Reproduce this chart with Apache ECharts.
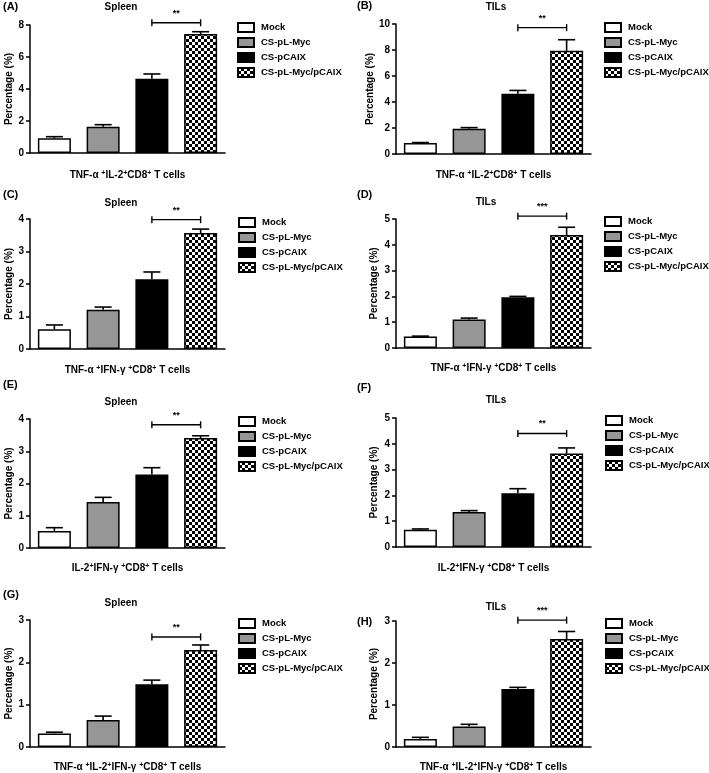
<!DOCTYPE html>
<html><head><meta charset="utf-8">
<script src="https://cdn.jsdelivr.net/npm/echarts@6/dist/echarts.min.js"></script>
<style>html,body{margin:0;padding:0;background:#fff}#c{width:709px;height:773px}</style>
</head><body><div id="c"></div>
<script>
// ---------- data ----------
const groups = ['Mock', 'CS-pL-Myc', 'CS-pCAIX', 'CS-pL-Myc/pCAIX'];
const panelLetters = ['(A)', '(B)', '(C)', '(D)', '(E)', '(F)', '(G)', '(H)'];
const tissues = ['Spleen', 'TILs', 'Spleen', 'TILs', 'Spleen', 'TILs', 'Spleen', 'TILs'];
const cellTypes = [
  'TNF-α {s|+}IL-2{s|+}CD8{s|+} T cells',
  'TNF-α {s|+}IL-2{s|+}CD8{s|+} T cells',
  'TNF-α {s|+}IFN-γ {s|+}CD8{s|+} T cells',
  'TNF-α {s|+}IFN-γ {s|+}CD8{s|+} T cells',
  'IL-2{s|+}IFN-γ {s|+}CD8{s|+} T cells',
  'IL-2{s|+}IFN-γ {s|+}CD8{s|+} T cells',
  'TNF-α {s|+}IL-2{s|+}IFN-γ {s|+}CD8{s|+} T cells',
  'TNF-α {s|+}IL-2{s|+}IFN-γ {s|+}CD8{s|+} T cells'
];
const yMax = [8, 10, 4, 5, 4, 5, 3, 3];
const yStep = [2, 2, 1, 1, 1, 1, 1, 1];

const meanA = [0.92, 1.64, 4.64, 7.44]; const semA = [0.10, 0.13, 0.30, 0.14];
const meanB = [0.84, 1.94, 4.64, 7.94]; const semB = [0.04, 0.09, 0.25, 0.85];
const meanC = [0.61, 1.21, 2.15, 3.57]; const semC = [0.13, 0.08, 0.22, 0.12];
const meanD = [0.45, 1.10, 1.97, 4.38]; const semD = [0.01, 0.06, 0.03, 0.30];
const meanE = [0.53, 1.43, 2.28, 3.41]; const semE = [0.10, 0.14, 0.21, 0.07];
const meanF = [0.67, 1.36, 2.08, 3.62]; const semF = [0.03, 0.05, 0.18, 0.22];
const meanG = [0.32, 0.64, 1.48, 2.29]; const semG = [0.03, 0.09, 0.10, 0.12];
const meanH = [0.19, 0.49, 1.38, 2.57]; const semH = [0.04, 0.05, 0.04, 0.18];
const means = [meanA, meanB, meanC, meanD, meanE, meanF, meanG, meanH];
const sems = [semA, semB, semC, semD, semE, semF, semG, semH];

const sigLevel = [8.14, 9.72, 3.98, 5.11, 3.82, 4.40, 2.60, 3.02];
const sigMark = ['**', '**', '**', '***', '**', '**', '**', '***'];

// ---------- layout / style ----------
const FONT = '"Liberation Sans", Arial, Helvetica, sans-serif';
const layout = [
  // gridLeft, gridTop, gridHeight, legendLeft, legendTop, titleX, titleY, letterX, letterY, xNameGap, yNameGap
  [30, 25, 128, 237, 22, 121, 7, 3, 7, 17, 16],
  [396, 24, 130, 604, 22, 496, 7, 357, 6, 16, 21],
  [30, 219, 130, 238, 217, 121, 203, 3, 195, 16, 16],
  [396, 219, 129, 604, 216, 486, 202, 357, 195, 15, 17],
  [30, 419, 129, 238, 416, 121, 402, 3, 385, 15, 16],
  [396, 418, 129, 605, 415, 496, 400, 357, 388, 16, 17],
  [30, 620, 130, 238, 618, 121, 603, 3, 595, 15, 16],
  [396, 621, 129, 605, 618, 496, 607, 357, 622, 15, 17]
];
const GRID_W = 195;

// checkered pattern
const pc = document.createElement('canvas');
pc.width = 6; pc.height = 6;
const g2 = pc.getContext('2d');
g2.fillStyle = '#000'; g2.fillRect(0, 0, 6, 6);
g2.fillStyle = '#fff'; g2.fillRect(0, 0, 3, 3); g2.fillRect(3, 3, 3, 3);
const fills = ['#ffffff', '#969696', '#000000', { image: pc, repeat: 'repeat' }];

const grid = [], xAxis = [], yAxis = [], series = [], legend = [], graphic = [];

for (let p = 0; p < 8; p++) {
  const L = layout[p];
  grid.push({ left: L[0], top: L[1], width: GRID_W, height: L[2] });
  xAxis.push({
    type: 'category', gridIndex: p, data: groups,
    axisLine: { lineStyle: { color: '#000', width: 1.5 } },
    axisTick: { show: false }, axisLabel: { show: false },
    name: cellTypes[p], nameLocation: 'middle', nameGap: L[9],
    nameTextStyle: {
      fontFamily: FONT, fontWeight: 'bold', fontSize: 10, color: '#000',
      rich: { s: { fontSize: 7, fontWeight: 'bold', verticalAlign: 'top', color: '#000', fontFamily: FONT } }
    }
  });
  yAxis.push({
    type: 'value', gridIndex: p, min: 0, max: yMax[p], interval: yStep[p],
    splitLine: { show: false },
    axisLine: { show: true, lineStyle: { color: '#000', width: 1.5 } },
    axisTick: { show: true, length: 4, lineStyle: { color: '#000', width: 1.5 } },
    axisLabel: { fontFamily: FONT, fontWeight: 'bold', fontSize: 10, color: '#000', margin: 6 },
    name: 'Percentage (%)', nameLocation: 'middle', nameGap: L[10],
    nameTextStyle: { fontFamily: FONT, fontWeight: 'bold', fontSize: 10, color: '#000' }
  });
  for (let g = 0; g < 4; g++) {
    series.push({
      type: 'bar', name: groups[g], xAxisIndex: p, yAxisIndex: p,
      barWidth: 33, barGap: '-100%',
      data: groups.map((_, i) => (i === g ? means[p][i] : '-')),
      itemStyle: { color: fills[g], borderColor: '#000', borderWidth: 1.5 },
      animation: false, silent: true
    });
  }
  // error bars
  series.push({
    type: 'custom', xAxisIndex: p, yAxisIndex: p, clip: false, silent: true, animation: false,
    data: groups.map((_, i) => [i, means[p][i], sems[p][i]]),
    renderItem: function (params, api) {
      const x = api.value(0), m = api.value(1), e = api.value(2);
      const p0 = api.coord([x, m]), p1 = api.coord([x, m + e]);
      const half = api.size([1, 0])[0] * 0.175;
      return {
        type: 'group', children: [
          { type: 'line', shape: { x1: p0[0], y1: p0[1], x2: p1[0], y2: p1[1] }, style: { stroke: '#000', lineWidth: 1.6 } },
          { type: 'line', shape: { x1: p1[0] - half, y1: p1[1], x2: p1[0] + half, y2: p1[1] }, style: { stroke: '#000', lineWidth: 1.6 } }
        ]
      };
    }
  });
  // significance bracket
  const mark = sigMark[p];
  series.push({
    type: 'custom', xAxisIndex: p, yAxisIndex: p, clip: false, silent: true, animation: false,
    data: [[2, 3, sigLevel[p]]],
    renderItem: function (params, api) {
      const a = api.coord([api.value(0), api.value(2)]);
      const b = api.coord([api.value(1), api.value(2)]);
      const st = { stroke: '#000', lineWidth: 1.4 };
      return {
        type: 'group', children: [
          { type: 'line', shape: { x1: a[0], y1: a[1], x2: b[0], y2: b[1] }, style: st },
          { type: 'line', shape: { x1: a[0], y1: a[1] - 3.5, x2: a[0], y2: a[1] + 3.5 }, style: st },
          { type: 'line', shape: { x1: b[0], y1: b[1] - 3.5, x2: b[0], y2: b[1] + 3.5 }, style: st },
          { type: 'text', x: (a[0] + b[0]) / 2, y: a[1] - 5,
            style: { text: mark, fill: '#000', font: 'bold 9px ' + FONT, textAlign: 'center', textVerticalAlign: 'bottom' } }
        ]
      };
    }
  });
  legend.push({
    data: groups, left: L[3], top: L[4], orient: 'vertical', icon: 'rect',
    itemWidth: 16, itemHeight: 9, itemGap: 4, selectedMode: false, padding: 0,
    textStyle: { fontFamily: FONT, fontWeight: 'bold', fontSize: 9.5, color: '#000', lineHeight: 11, padding: [0, 0, 0, 2] }
  });
  graphic.push({ type: 'text', x: L[5], y: L[6], style: { text: tissues[p], font: 'bold 10px ' + FONT, fill: '#000', textAlign: 'center', textVerticalAlign: 'middle' } });
  graphic.push({ type: 'text', x: L[7], y: L[8], style: { text: panelLetters[p], font: 'bold 11px ' + FONT, fill: '#000', textAlign: 'left', textVerticalAlign: 'middle' } });
}

const chart = echarts.init(document.getElementById('c'), null, { renderer: 'canvas' });
chart.setOption({ backgroundColor: '#fff', animation: false, grid, xAxis, yAxis, series, legend, graphic });
</script></body></html>
